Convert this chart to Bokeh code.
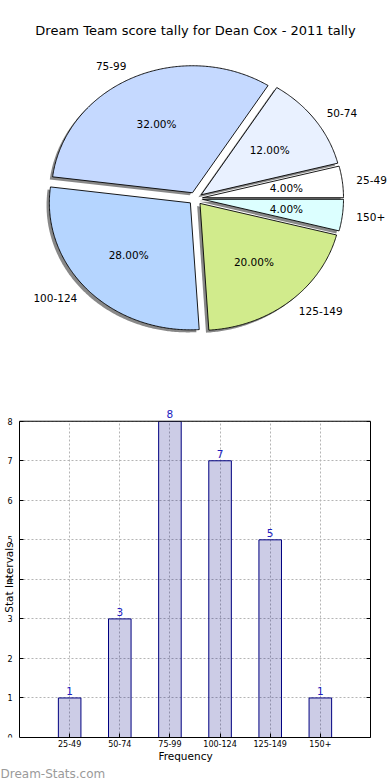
import numpy as np
from bokeh.plotting import figure
from bokeh.models import (ColumnDataSource, Label, LabelSet, Range1d, SingleIntervalTicker,
                          FixedTicker, LinearAxis, BoxAnnotation, Title)
from bokeh.layouts import column
from bokeh.core.properties import value
from bokeh.embed import file_html
from bokeh.resources import INLINE

# ---------------- data ----------------
chart_title = "Dream Team score tally for Dean Cox - 2011 tally"
categories = ["25-49", "50-74", "75-99", "100-124", "125-149", "150+"]
counts = [1, 3, 8, 7, 5, 1]
pie_colors = ["#ffffff", "#e9f1ff", "#c5d9ff", "#b5d5ff", "#d1eb8c", "#dcffff"]
x_label = "Frequency"
y_label = "Stat Intervals"
watermark = "Dream-Stats.com"
y_max = 8

FONT = "DejaVu Sans"
W = 390
H1 = 380
H2 = 400


def no_frame_align(p):
    if "frame_align" in p.properties():
        p.frame_align = False


# ---------------- pie ----------------
fr = np.array(counts, dtype=float) / sum(counts)
edges = np.concatenate([[0.0], np.cumsum(fr)]) * 2 * np.pi
explode = 0.05
shadow_off = -0.02

wx, wy, sxs, sys_ = [], [], [], []
lab_l = dict(x=[], y=[], text=[])
lab_r = dict(x=[], y=[], text=[])
pct = dict(x=[], y=[], text=[])
for i in range(len(counts)):
    a0, a1 = edges[i], edges[i + 1]
    mid = 0.5 * (a0 + a1)
    cx, cy = explode * np.cos(mid), explode * np.sin(mid)
    t = np.linspace(a0, a1, max(int((a1 - a0) / 0.01), 12))
    px = np.concatenate([[cx], cx + np.cos(t), [cx]])
    py = np.concatenate([[cy], cy + np.sin(t), [cy]])
    wx.append(list(px))
    wy.append(list(py))
    sxs.append(list(px + shadow_off))
    sys_.append(list(py + shadow_off))
    lx = cx + 1.1 * np.cos(mid)
    ly = cy + 1.1 * np.sin(mid)
    d = lab_l if lx > 0 else lab_r
    d["x"].append(lx)
    d["y"].append(ly)
    d["text"].append(categories[i])
    pct["x"].append(cx + 0.6 * np.cos(mid))
    pct["y"].append(cy + 0.6 * np.sin(mid))
    pct["text"].append("%.2f%%" % (100 * fr[i]))

p1 = figure(frame_width=W, frame_height=H1, x_range=Range1d(-1.383, 1.383), y_range=Range1d(-1.433, 1.559),
            output_backend="svg", toolbar_location=None,
            x_axis_location=None, y_axis_location=None, min_border=0)
no_frame_align(p1)
p1.grid.visible = False
p1.outline_line_color = None

p1.patches(xs=sxs, ys=sys_, fill_color="#6a6a6a", fill_alpha=0.8, line_color=None)
p1.patches(xs=wx, ys=wy, fill_color=pie_colors, line_color="black", line_width=0.9)

common = dict(text_font=value(FONT), text_font_size="10.5px", text_color="black", text_baseline="middle")
p1.add_layout(LabelSet(x="x", y="y", text="text", source=ColumnDataSource(lab_l), text_align="left", **common))
p1.add_layout(LabelSet(x="x", y="y", text="text", source=ColumnDataSource(lab_r), text_align="right", **common))
p1.add_layout(LabelSet(x="x", y="y", text="text", source=ColumnDataSource(pct), text_align="center", **common))
p1.add_layout(Label(x=0, y=1.323, text=chart_title, text_align="center", text_baseline="middle",
                    text_font=FONT, text_font_size="13px", text_color="black"))

# ---------------- bars ----------------
x_pos = list(range(1, len(categories) + 1))
x_end = len(categories) + 1
LEFT_PAD = 19                      # px between canvas edge and the axes box
unit_px = (W - 20 - LEFT_PAD) / x_end
src = ColumnDataSource(dict(x=x_pos, count=counts, label=[str(c) for c in counts]))
p2 = figure(width=W, height=H2,
            x_range=Range1d(-LEFT_PAD / unit_px, x_end), y_range=Range1d(0, y_max + 0.55),
            output_backend="svg", toolbar_location=None,
            min_border_top=19, min_border_bottom=40, min_border_right=20, min_border_left=0)
no_frame_align(p2)
p2.outline_line_color = None

p2.vbar(x="x", top="count", width=0.45, source=src, fill_color="navy", fill_alpha=0.2,
        line_color="navy", line_width=1)

# white covers outside the axes box (over the grid, under axes and labels)
p2.add_layout(BoxAnnotation(bottom=y_max, fill_color="white", fill_alpha=1, line_color=None, level="glyph"))
p2.add_layout(BoxAnnotation(right=0, fill_color="white", fill_alpha=1, line_color=None, level="glyph"))

# top edge of the axes box
p2.segment(x0=[0], y0=[y_max], x1=[x_end], y1=[y_max], line_color="black", line_width=1, level="overlay")

p2.add_layout(LabelSet(x="x", y="count", text="label", source=src, y_offset=3, text_align="center",
                       text_baseline="bottom", text_font=value(FONT), text_font_size="10.5px",
                       text_color="#1c1cc0"))

left = p2.yaxis[0]
bottom = p2.xaxis[0]
bottom.ticker = FixedTicker(ticks=x_pos)
bottom.major_label_overrides = {x: c for x, c in zip(x_pos, categories)}
bottom.bounds = (0, x_end)
left.ticker = SingleIntervalTicker(interval=1)
left.bounds = (0, y_max)
left.fixed_location = 0

right = LinearAxis(ticker=SingleIntervalTicker(interval=1), bounds=(0, y_max),
                   major_label_overrides={i: "" for i in range(y_max + 1)})
p2.add_layout(right, "right")

for ax in (bottom, left, right):
    ax.major_tick_in = 4
    ax.major_tick_out = 0
    ax.minor_tick_line_color = None
    ax.axis_line_color = "black"
    ax.major_tick_line_color = "black"
    ax.major_label_text_font = FONT
    ax.major_label_text_font_size = "8px"
    ax.major_label_text_color = "black"
    ax.major_label_standoff = 3
    ax.axis_label_text_font = FONT
    ax.axis_label_text_font_size = "10.5px"
    ax.axis_label_text_font_style = "normal"
    ax.axis_label_text_color = "black"
    ax.axis_label_standoff = 0
right.major_label_standoff = 0
bottom.major_label_standoff = 2
bottom.axis_label = x_label
left.major_label_orientation = "horizontal"

p2.ygrid.ticker = SingleIntervalTicker(interval=1)
for g in (p2.xgrid[0], p2.ygrid[0]):
    g.grid_line_color = "#b4b4b4"
    g.grid_line_dash = "2 2"
    g.grid_line_width = 1
if "cross_bounds" in p2.ygrid[0].properties():
    p2.ygrid[0].cross_bounds = (0, x_end)
    p2.xgrid[0].cross_bounds = (0, y_max)

# y axis title, inside the (widened) frame, left of the tick labels
p2.add_layout(Label(x=8, y=160, x_units="screen", y_units="screen", text=y_label, angle=np.pi / 2,
                    text_font=FONT, text_font_size="10.5px", text_color="black",
                    text_align="center", text_baseline="alphabetic"))

p2.add_layout(Title(text=watermark, align="left", offset=0, standoff=0,
                    text_font=FONT, text_font_size="12px", text_color="#9a9a9a",
                    text_font_style="normal"), "below")

layout = column(p1, p2, spacing=0)
open("out.html", "w").write(file_html(layout, INLINE))
